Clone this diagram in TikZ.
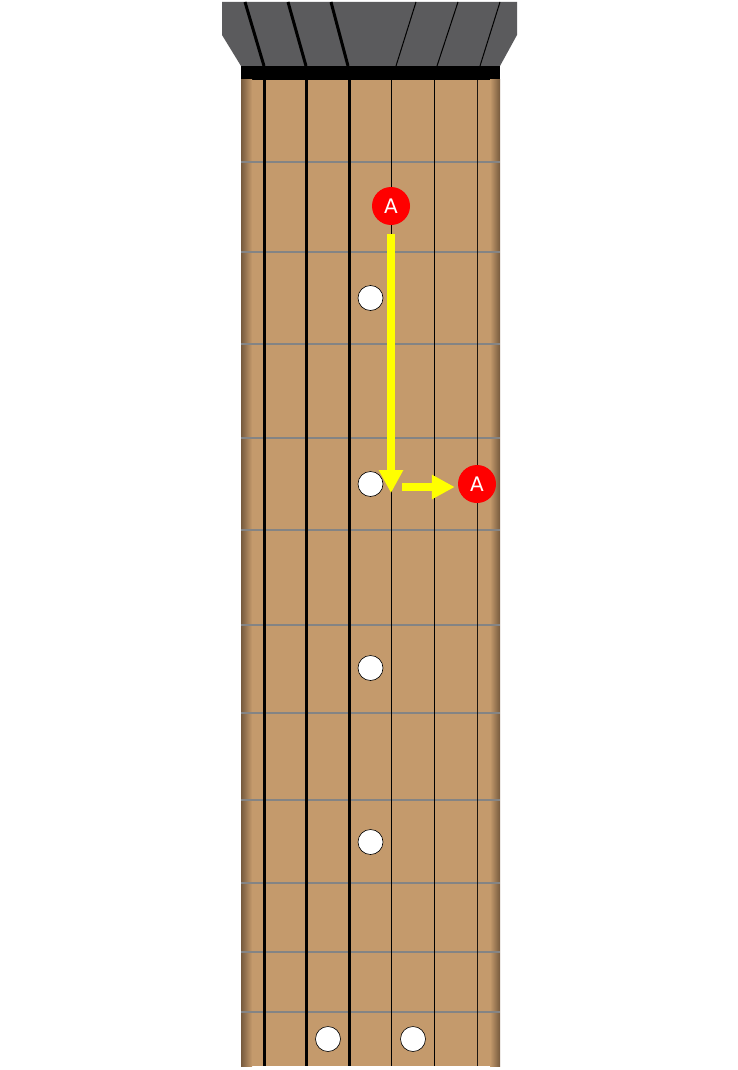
\documentclass[tikz,border=0pt]{standalone}
\usepackage{fontspec}
\usetikzlibrary{arrows.meta}
\newfontfamily\markfont{DejaVu Sans}
\definecolor{headgray}{HTML}{5B5B5D}
\definecolor{neckwood}{HTML}{C49A6C}
\definecolor{neckedge}{HTML}{765A3D}
\definecolor{fretgray}{HTML}{848484}
\definecolor{markred}{HTML}{FF0000}
\definecolor{arrowyellow}{HTML}{FFFF00}
\begin{document}
\begin{tikzpicture}[x=1pt,y=-1pt,
   fret/.style={draw=fretgray,line width=1.6pt},
   thickstring/.style={draw=black,line width=3pt},
   thinstring/.style={draw=black,line width=1pt},
   dot/.style={circle,draw=black,line width=0.6pt,fill=white,minimum size=25pt,inner sep=0pt},
   notemark/.style={circle,fill=markred,minimum size=38pt,inner sep=0pt,text=white,font=\markfont\fontsize{20}{20}\selectfont},
   slide/.style={draw=arrowyellow,line width=7.5pt,-{Triangle[width=23pt,length=23pt]}}]
   \useasboundingbox (0,0) rectangle (737,1070);
   % headstock and nut
   \fill[headgray] (222,2) -- (517,2) -- (517,35) -- (500,66) -- (241,66) -- (222,35) -- cycle;
   \draw[line width=3pt] (245,2) -- (264,66);
   \draw[line width=3pt] (288,2) -- (306,66);
   \draw[line width=3pt] (331,2) -- (348,66);
   \draw[line width=1pt] (416,2) -- (396,66);
   \draw[line width=1pt] (458,2) -- (437,66);
   \draw[line width=1pt] (500,2) -- (480,66);
   \fill[black] (241,66) rectangle (500,80);
   % neck
   \fill[neckwood] (241,80) rectangle (500,1066);
   \shade[left color=neckedge,right color=neckwood] (241,80) rectangle (252,1066);
   \shade[left color=neckwood,right color=neckedge] (490,80) rectangle (500,1066);
   % frets
   \draw[fret] (241,162) -- (500,162);
   \draw[fret] (241,252) -- (500,252);
   \draw[fret] (241,344) -- (500,344);
   \draw[fret] (241,438) -- (500,438);
   \draw[fret] (241,530) -- (500,530);
   \draw[fret] (241,625) -- (500,625);
   \draw[fret] (241,713) -- (500,713);
   \draw[fret] (241,800) -- (500,800);
   \draw[fret] (241,883) -- (500,883);
   \draw[fret] (241,952) -- (500,952);
   \draw[fret] (241,1012) -- (500,1012);
   % strings
   \draw[thickstring] (264,80) -- (264,1066);
   \draw[thickstring] (306.5,80) -- (306.5,1066);
   \draw[thickstring] (349,80) -- (349,1066);
   \draw[thinstring] (391,80) -- (391,1066);
   \draw[thinstring] (434,80) -- (434,1066);
   \draw[thinstring,opacity=0.85] (477,80) -- (477,1066);
   % inlays
   \node (inlay3) at (370.5,298) [dot] {};
   \node (inlay5) at (370.5,484) [dot] {};
   \node (inlay7) at (370.5,668) [dot] {};
   \node (inlay9) at (370.5,842) [dot] {};
   \node (inlay12a) at (328,1039) [dot] {};
   \node (inlay12b) at (413,1039) [dot] {};
   % notes and slides
   \node (noteA1) at (391,206) [notemark] {A};
   \node (noteA2) at (477,484) [notemark] {A};
   \coordinate (turn1) at (391,493);
   \coordinate (turn2) at (402,487);
   \draw[slide,shorten <=9pt] (noteA1) -- (turn1);
   \draw[slide,shorten >=3pt] (turn2) -- (turn2 -| noteA2.west);
\end{tikzpicture}
\end{document}
